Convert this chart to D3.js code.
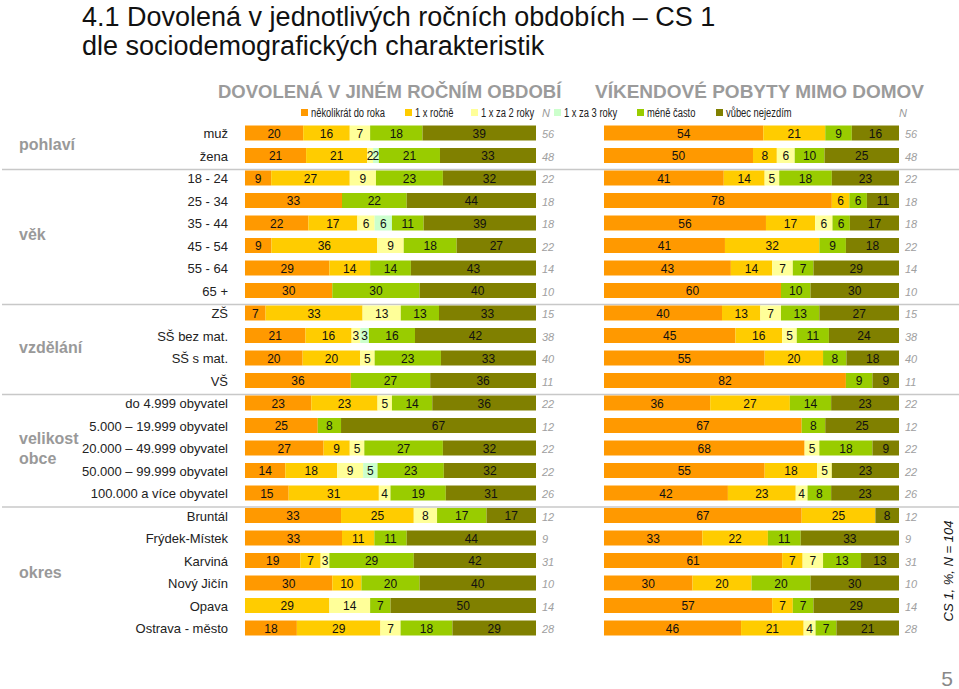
<!DOCTYPE html>
<html>
<head>
<meta charset="utf-8">
<script src="https://cdn.jsdelivr.net/npm/d3@7"></script>
<style>
  body { margin: 0; background: #fff; }
  svg { display: block; font-family: Arial, "Liberation Sans", sans-serif; }
</style>
</head>
<body>
<div id="chart"></div>
<script>
// categories (shared legend)
const categories = ['několikrát do roka', '1 x ročně', '1 x za 2 roky', '1 x za 3 roky', 'méně často', 'vůbec nejezdím'];
const catColors = ['#ff9900', '#ffcc00', '#ffff99', '#ccffcc', '#99cc00', '#808000'];

const rowLabels = ['muž', 'žena', '18 - 24', '25 - 34', '35 - 44', '45 - 54', '55 - 64', '65 +',
  'ZŠ', 'SŠ bez mat.', 'SŠ s mat.', 'VŠ',
  'do 4.999 obyvatel', '5.000 – 19.999 obyvatel', '20.000 – 49.999 obyvatel', '50.000 – 99.999 obyvatel', '100.000 a více obyvatel',
  'Bruntál', 'Frýdek-Místek', 'Karviná', 'Nový Jičín', 'Opava', 'Ostrava - město'];

// group name, first row, last row
const groups = [
  { name: ['pohlaví'], from: 0, to: 1 },
  { name: ['věk'], from: 2, to: 7 },
  { name: ['vzdělání'], from: 8, to: 11 },
  { name: ['velikost', 'obce'], from: 12, to: 16 },
  { name: ['okres'], from: 17, to: 22 }
];

// DOVOLENÁ V JINÉM ROČNÍM OBDOBÍ
const leftValues = [
  [20, 16, 7, 0, 18, 39],
  [21, 21, 2, 2, 21, 33],
  [9, 27, 9, 0, 23, 32],
  [33, 0, 0, 0, 22, 44],
  [22, 17, 6, 6, 11, 39],
  [9, 36, 9, 0, 18, 27],
  [29, 14, 0, 0, 14, 43],
  [30, 0, 0, 0, 30, 40],
  [7, 33, 13, 0, 13, 33],
  [21, 16, 3, 3, 16, 42],
  [20, 20, 5, 0, 23, 33],
  [36, 0, 0, 0, 27, 36],
  [23, 23, 5, 0, 14, 36],
  [25, 0, 0, 0, 8, 67],
  [27, 9, 5, 0, 27, 32],
  [14, 18, 9, 5, 23, 32],
  [15, 31, 4, 0, 19, 31],
  [33, 25, 8, 0, 17, 17],
  [33, 11, 0, 0, 11, 44],
  [19, 7, 3, 0, 29, 42],
  [30, 10, 0, 0, 20, 40],
  [0, 29, 14, 0, 7, 50],
  [18, 29, 7, 0, 18, 29]
];

// VÍKENDOVÉ POBYTY MIMO DOMOV
const rightValues = [
  [54, 21, 0, 0, 9, 16],
  [50, 8, 6, 0, 10, 25],
  [41, 14, 5, 0, 18, 23],
  [78, 6, 0, 0, 6, 11],
  [56, 17, 6, 0, 6, 17],
  [41, 32, 0, 0, 9, 18],
  [43, 14, 7, 0, 7, 29],
  [60, 0, 0, 0, 10, 30],
  [40, 13, 7, 0, 13, 27],
  [45, 16, 5, 0, 11, 24],
  [55, 20, 0, 0, 8, 18],
  [82, 0, 0, 0, 9, 9],
  [36, 27, 0, 0, 14, 23],
  [67, 0, 0, 0, 8, 25],
  [68, 0, 5, 0, 18, 9],
  [55, 18, 5, 0, 0, 23],
  [42, 23, 4, 0, 8, 23],
  [67, 25, 0, 0, 0, 8],
  [33, 22, 0, 0, 11, 33],
  [61, 7, 7, 0, 13, 13],
  [30, 20, 0, 0, 20, 30],
  [57, 7, 0, 0, 7, 29],
  [46, 21, 4, 0, 7, 21]
];

const rowN = [56, 48, 22, 18, 18, 22, 14, 10, 15, 38, 40, 11, 22, 12, 22, 22, 26, 12, 9, 31, 10, 14, 28];
const separatorsAfter = [1, 7, 11, 16];

const W = 959, H = 689;
const svg = d3.select('#chart').append('svg').attr('width', W).attr('height', H);

// title
const title = svg.append('text').attr('fill', '#111').attr('font-size', 27);
title.append('tspan').attr('x', 82).attr('y', 26).text('4.1 Dovolená v jednotlivých ročních obdobích – CS 1');
title.append('tspan').attr('x', 82).attr('y', 55).text('dle sociodemografických charakteristik');

// row positions
const y = d3.scalePoint().domain(d3.range(rowLabels.length)).range([133, 628]);
const barH = 15;

// separator lines (behind bars)
svg.selectAll('.sep').data(separatorsAfter).join('line')
  .attr('x1', 2).attr('x2', W)
  .attr('y1', i => y(i + 1) - barH / 2 - 1).attr('y2', i => y(i + 1) - barH / 2 - 1)
  .attr('stroke', '#c8c8c8').attr('stroke-width', 1.5);

// panel headers
svg.append('text').attr('x', 218).attr('y', 98).attr('font-size', 18.5).attr('font-weight', 'bold')
  .attr('fill', '#9b9b9b').text('DOVOLENÁ V JINÉM ROČNÍM OBDOBÍ');
svg.append('text').attr('x', 595).attr('y', 98).attr('font-size', 19).attr('font-weight', 'bold')
  .attr('fill', '#9b9b9b').text('VÍKENDOVÉ POBYTY MIMO DOMOV');

// legend (condensed face in the original)
const legendX = [301, 405, 471, 554, 637, 716];
const lg = svg.append('g').attr('font-size', 12);
const li = lg.selectAll('g').data(categories).join('g')
  .attr('transform', (d, i) => `translate(${legendX[i]},113)`);
li.append('rect').attr('x', 0).attr('y', -4).attr('width', 7).attr('height', 7).attr('fill', (d, i) => catColors[i]);
li.append('text').attr('x', 10).attr('y', 4).attr('fill', '#222')
  .text(d => d)
  .each(function () {
    const w = this.getComputedTextLength();
    d3.select(this).attr('textLength', w * 0.78).attr('lengthAdjust', 'spacingAndGlyphs');
  });
lg.append('text').attr('x', 542).attr('y', 117).attr('font-size', 11).attr('fill', '#999').attr('font-style', 'italic').text('N');
lg.append('text').attr('x', 899).attr('y', 117).attr('font-size', 11).attr('fill', '#999').attr('font-style', 'italic').text('N');

// row labels
svg.append('g').selectAll('text').data(rowLabels).join('text')
  .attr('x', 228).attr('y', (d, i) => y(i) + 5)
  .attr('text-anchor', 'end').attr('font-size', 13).attr('fill', '#222')
  .text(d => d);

// group labels
const gl = svg.append('g').selectAll('text').data(groups).join('text')
  .attr('font-size', 16).attr('font-weight', 'bold').attr('fill', '#999');
gl.each(function (g) {
  const mid = (y(g.from) + y(g.to)) / 2;
  const n = g.name.length;
  d3.select(this).selectAll('tspan').data(g.name).join('tspan')
    .attr('x', 19)
    .attr('y', (d, k) => mid + 6 + (k - (n - 1) / 2) * 20)
    .text(d => d);
});

function drawPanel(values, x0, x1, nX) {
  const x = d3.scaleLinear().domain([0, 1]).range([x0, x1]);
  const panel = svg.append('g');
  values.forEach((row, i) => {
    const total = d3.sum(row);
    let acc = 0;
    const segs = row.map((v, k) => {
      const s = { v, k, a: acc / total, b: (acc + v) / total };
      acc += v;
      return s;
    }).filter(s => s.v > 0);
    const rg = panel.append('g');
    rg.selectAll('rect').data(segs).join('rect')
      .attr('x', s => x(s.a)).attr('width', s => x(s.b) - x(s.a))
      .attr('y', y(i) - barH / 2).attr('height', barH)
      .attr('fill', s => catColors[s.k]);
    rg.selectAll('text').data(segs).join('text')
      .attr('x', s => (x(s.a) + x(s.b)) / 2).attr('y', y(i) + 4.5)
      .attr('text-anchor', 'middle').attr('font-size', 12).attr('fill', '#111')
      .text(s => s.v);
  });
  panel.selectAll('.n').data(rowN).join('text')
    .attr('x', nX).attr('y', (d, i) => y(i) + 5)
    .attr('font-size', 11).attr('font-style', 'italic').attr('fill', '#a0a0a0')
    .text(d => d);
}

drawPanel(leftValues, 245, 536, 542);
drawPanel(rightValues, 604, 899, 905);

// side note
svg.append('text').attr('transform', 'translate(953,571) rotate(-90)')
  .attr('text-anchor', 'middle').attr('font-size', 13).attr('font-style', 'italic').attr('fill', '#111')
  .text('CS 1, %, N = 104');

// page number
svg.append('text').attr('x', 947).attr('y', 686).attr('text-anchor', 'middle')
  .attr('font-size', 21).attr('fill', '#888').text('5');
</script>
</body>
</html>
